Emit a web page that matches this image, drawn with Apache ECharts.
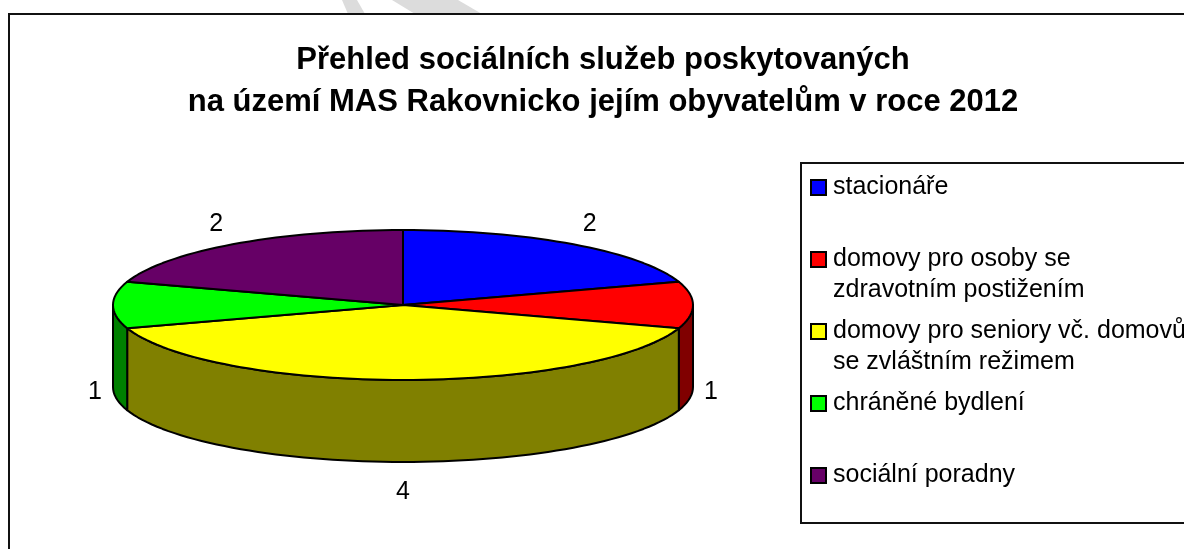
<!DOCTYPE html>
<html>
<head>
<meta charset="utf-8">
<style>
html, body { margin: 0; padding: 0; background: #fff; overflow: hidden; }
#chart { width: 1184px; height: 549px; }
</style>
<script src="https://cdn.jsdelivr.net/npm/echarts@6/dist/echarts.min.js"></script>
</head>
<body>
<div id="chart"></div>
<script>
const chartTitle = 'Přehled sociálních služeb poskytovaných\nna území MAS Rakovnicko jejím obyvatelům v roce 2012';
const categories = ['stacionáře', 'domovy pro osoby se\nzdravotním postižením', 'domovy pro seniory vč. domovů\nse zvláštním režimem', 'chráněné bydlení', 'sociální poradny'];
const values = [2, 1, 4, 1, 2];
const topColors = ['#0000ff', '#ff0000', '#ffff00', '#00ff00', '#660066'];
const sideColors = ['#000080', '#800000', '#808000', '#008000', '#400040'];

// geometrie pseudo 3D kolace
const cx = 403, cy = 305, rx = 290, ry = 75, depth = 82;
const total = values.reduce((a, b) => a + b, 0);

const pt = (deg, dy = 0) => {
    const r = deg * Math.PI / 180;
    return [cx + rx * Math.sin(r), cy - ry * Math.cos(r) + dy];
};
const arc = (from, to, dy = 0) => {
    const pts = [];
    for (let d = from; d < to; d += 2) pts.push(pt(d, dy));
    pts.push(pt(to, dy));
    return pts;
};

const lineStyle = { stroke: '#000', lineWidth: 2, lineJoin: 'round' };

const renderSlice = (index) => (params, api) => {
    const start = values.slice(0, index).reduce((a, b) => a + b, 0) / total * 360;
    const end = start + api.value(0) / total * 360;
    const mid = (start + end) / 2;
    const children = [];

    // bocni stena, jen predni polovina (90 az 270 stupnu)
    const from = Math.max(start, 90), to = Math.min(end, 270);
    if (from < to) {
        children.push({
            type: 'polygon',
            shape: { points: arc(from, to).concat(arc(from, to, depth).reverse()) },
            style: Object.assign({ fill: sideColors[index] }, lineStyle)
        });
    }
    children.push({
        type: 'polygon',
        shape: { points: [[cx, cy]].concat(arc(start, end)) },
        style: Object.assign({ fill: topColors[index] }, lineStyle)
    });

    const rad = mid * Math.PI / 180;
    const cos = Math.cos(rad);
    const front = cos < 0.001;
    children.push({
        type: 'text',
        style: {
            text: String(api.value(0)),
            x: cx + (rx + 18 + 12 * Math.abs(cos)) * Math.sin(rad),
            y: cy - (ry + 25) * cos + (front ? 87 : 0),
            align: 'center',
            verticalAlign: 'middle',
            fill: '#000',
            font: '25px "Liberation Sans", Arial, sans-serif'
        }
    });
    return { type: 'group', children };
};

const chart = echarts.init(document.getElementById('chart'), null, { renderer: 'canvas' });
chart.setOption({
    animation: false,
    backgroundColor: '#fff',
    title: {
        text: chartTitle,
        left: 598,
        top: 34,
        textAlign: 'center',
        textStyle: {
            fontFamily: '"Liberation Sans", Arial, sans-serif',
            fontWeight: 'bold',
            fontSize: 31,
            lineHeight: 42,
            color: '#000'
        }
    },
    legend: {
        orient: 'vertical',
        left: 810,
        top: 141,
        padding: 0,
        itemGap: -21,
        itemWidth: 15,
        itemHeight: 15,
        icon: 'rect',
        selectedMode: false,
        data: categories,
        itemStyle: { borderColor: '#000', borderWidth: 2 },
        // prazdny radek nad textem, aby ikona sedela u prvniho radku
        formatter: (name) => {
            const lines = name.split('\n');
            return ' \n' + lines[0] + '\n' + (lines[1] || ' ');
        },
        textStyle: {
            fontFamily: '"Liberation Sans", Arial, sans-serif',
            fontSize: 25,
            lineHeight: 31,
            color: '#000',
            padding: [0, 0, 0, 2]
        }
    },
    graphic: [
        { type: 'polygon', silent: true, z: -1, shape: { points: [[342, 0], [357, 0], [365, 14], [348, 14]] }, style: { fill: '#dcdcdc' } },
        { type: 'polygon', silent: true, z: -1, shape: { points: [[392, 0], [458, 0], [482, 14], [415, 14]] }, style: { fill: '#dcdcdc' } },
        { type: 'rect', silent: true, z: -1, shape: { x: 9, y: 14, width: 1200, height: 560 }, style: { fill: '#fff', stroke: '#111', lineWidth: 2 } },
        { type: 'rect', silent: true, z: -1, shape: { x: 801, y: 163, width: 420, height: 360 }, style: { fill: '#fff', stroke: '#111', lineWidth: 2 } }
    ],
    series: categories.map((name, i) => ({
        type: 'custom',
        name,
        coordinateSystem: 'none',
        silent: true,
        itemStyle: { color: topColors[i] },
        renderItem: renderSlice(i),
        data: [[values[i]]]
    }))
});
</script>
</body>
</html>
